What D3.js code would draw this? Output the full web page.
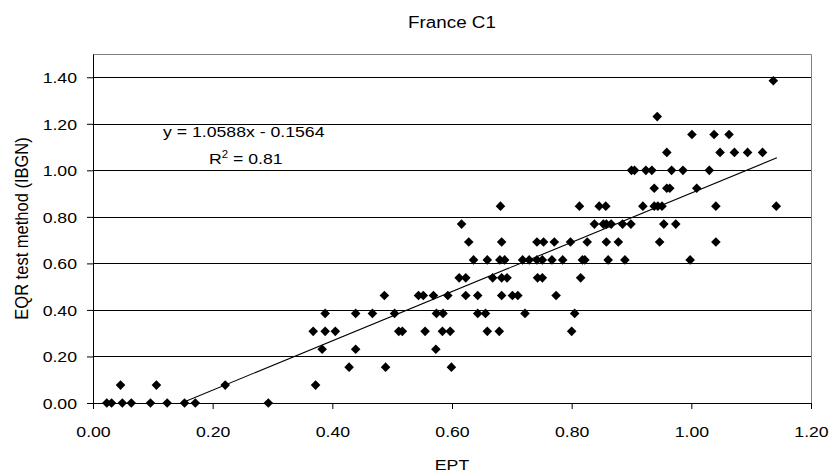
<!DOCTYPE html>
<html>
<head>
<meta charset="utf-8">
<script src="https://cdn.jsdelivr.net/npm/d3@7"></script>
<style>
  body { margin: 0; background: #fff; }
  text { font-family: "Liberation Sans", Arial, sans-serif; fill: #000; }
</style>
</head>
<body>
<script>
// EQR values come in steps; EPT values for each step
var eqrLevels = [0.000, 0.077, 0.154, 0.231, 0.308, 0.385, 0.462, 0.538, 0.615,
                 0.692, 0.769, 0.846, 0.923, 1.000, 1.077, 1.154, 1.231, 1.385];

var eptAtLevel = [
  [0.023, 0.031, 0.049, 0.064, 0.096, 0.124, 0.153, 0.171, 0.293],
  [0.046, 0.106, 0.221, 0.372],
  [0.428, 0.489, 0.599],
  [0.383, 0.439, 0.573],
  [0.368, 0.388, 0.405, 0.511, 0.517, 0.555, 0.584, 0.597, 0.659, 0.679, 0.800],
  [0.388, 0.439, 0.467, 0.504, 0.574, 0.585, 0.643, 0.656, 0.722, 0.805],
  [0.487, 0.544, 0.552, 0.569, 0.593, 0.623, 0.643, 0.683, 0.701, 0.710, 0.774],
  [0.612, 0.623, 0.668, 0.683, 0.692, 0.743, 0.751, 0.815],
  [0.636, 0.659, 0.680, 0.688, 0.718, 0.729, 0.742, 0.751, 0.767, 0.785, 0.818, 0.822, 0.861, 0.889, 0.998],
  [0.628, 0.683, 0.742, 0.753, 0.771, 0.798, 0.826, 0.858, 0.878, 0.947, 1.041],
  [0.616, 0.838, 0.853, 0.858, 0.866, 0.885, 0.899, 0.954, 0.974],
  [0.681, 0.813, 0.846, 0.857, 0.919, 0.938, 0.944, 0.951, 1.041, 1.142],
  [0.938, 0.959, 0.964, 1.009],
  [0.900, 0.905, 0.924, 0.934, 0.967, 0.986, 1.030],
  [0.959, 1.048, 1.072, 1.094, 1.119],
  [1.001, 1.038, 1.063],
  [0.943],
  [1.137]
];

var xTicks = [0, 0.2, 0.4, 0.6, 0.8, 1.0, 1.2];
var yTicks = [0, 0.2, 0.4, 0.6, 0.8, 1.0, 1.2, 1.4];
var slope = 1.0588, intercept = -0.1564;
var trendX = [0.148, 1.143];

var data = [];
eptAtLevel.forEach(function(xs, i) {
  xs.forEach(function(x) { data.push({ept: x, eqr: eqrLevels[i]}); });
});

var width = 833, height = 476;
var margin = {top: 54, right: 22, bottom: 73, left: 93};
var stretch = 1.14; // text in the picture is a bit wide

var svg = d3.select("body").append("svg")
  .attr("width", width)
  .attr("height", height);

var w = width - margin.left - margin.right;
var h = height - margin.top - margin.bottom;

var g = svg.append("g")
  .attr("transform", "translate(" + margin.left + "," + margin.top + ")");

var x = d3.scaleLinear().domain([0, 1.2]).range([0, w]);
var y = d3.scaleLinear().domain([0, 1.5]).range([h, 0]);

// grid
g.selectAll(".grid")
  .data(yTicks.filter(function(d) { return d > 0; }))
  .enter().append("line")
  .attr("x1", 0).attr("x2", w)
  .attr("y1", function(d) { return Math.round(y(d)) + 0.5; })
  .attr("y2", function(d) { return Math.round(y(d)) + 0.5; })
  .attr("stroke", "#000")
  .attr("stroke-width", 1);

// top / right border
g.append("path")
  .attr("d", "M0," + 0.5 + "H" + (w + 0.5) + "V" + h)
  .attr("fill", "none")
  .attr("stroke", "#808080");

// axes
var xAxis = g.append("g")
  .attr("transform", "translate(0," + h + ")")
  .call(d3.axisBottom(x).tickValues(xTicks).tickSize(6).tickSizeOuter(0).tickFormat(d3.format(".2f")));

var yAxis = g.append("g")
  .call(d3.axisLeft(y).tickValues(yTicks).tickSize(6).tickSizeOuter(0).tickFormat(d3.format(".2f")));

[xAxis, yAxis].forEach(function(a) {
  a.select(".domain").attr("stroke", "#000");
  a.selectAll(".tick line").attr("stroke", "#000");
  a.selectAll(".tick text").style("font-size", "15.5px").attr("fill", "#000");
});

xAxis.selectAll(".tick text")
  .attr("y", null).attr("dy", null)
  .attr("transform", "translate(0,34) scale(" + stretch + ",1)");

yAxis.selectAll(".tick text")
  .attr("x", null).attr("dy", null)
  .attr("transform", "translate(-16,5.5) scale(" + stretch + ",1)");

// trend line
g.append("line")
  .attr("x1", x(trendX[0])).attr("y1", y(slope * trendX[0] + intercept))
  .attr("x2", x(trendX[1])).attr("y2", y(slope * trendX[1] + intercept))
  .attr("stroke", "#000")
  .attr("stroke-width", 1.1);

// points
g.selectAll(".pt")
  .data(data)
  .enter().append("path")
  .attr("d", "M0,-4.8L4.8,0L0,4.8L-4.8,0Z")
  .attr("transform", function(d) { return "translate(" + x(d.ept) + "," + y(d.eqr) + ")"; })
  .attr("fill", "#000");

// texts
function label(px, py, size, anchor, rot) {
  return svg.append("text")
    .attr("transform", "translate(" + px + "," + py + ") scale(" + stretch + ",1)" + (rot ? " rotate(-90)" : ""))
    .attr("text-anchor", anchor)
    .style("font-size", size + "px");
}

label(margin.left + w / 2, 28, 16.5, "middle").text("France C1");
label(margin.left + w / 2, 470, 15.5, "middle").text("EPT");
label(28, margin.top + h / 2, 16.5, "middle", true).text("EQR test method (IBGN)");

label(163, 137, 15.5, "start").text("y = 1.0588x - 0.1564");
var r2 = label(209, 164, 15.5, "start");
r2.append("tspan").text("R");
r2.append("tspan").attr("dy", -6).style("font-size", "10px").text("2");
r2.append("tspan").attr("dy", 6).text(" = 0.81");
</script>
</body>
</html>
